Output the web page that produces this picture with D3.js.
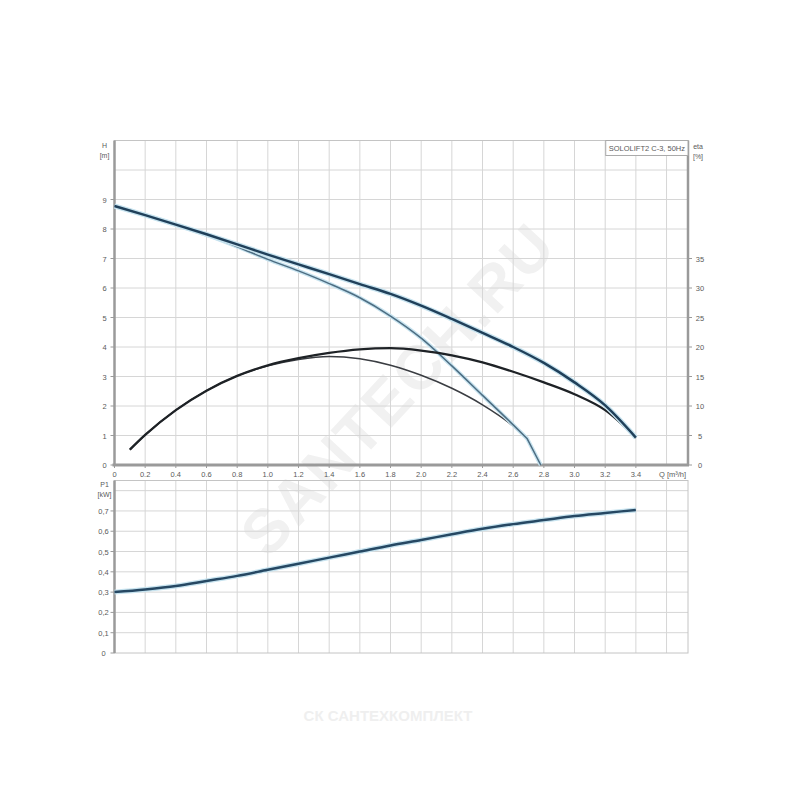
<!DOCTYPE html>
<html><head><meta charset="utf-8">
<script src="https://cdn.jsdelivr.net/npm/d3@7/dist/d3.min.js"></script>
<style>
html,body{margin:0;padding:0;background:#fff;}
svg text{font-family:"Liberation Sans","DejaVu Sans",sans-serif;}
</style></head>
<body><svg id="c" width="800" height="800"></svg>
<script>
// ---- data ----
const qMain   = [0,0.2,0.4,0.6,0.8,1.0,1.2,1.4,1.6,1.8,2.0,2.2,2.4,2.6,2.8,3.0,3.2,3.4];
const hMain   = [8.78,8.47,8.15,7.82,7.48,7.13,6.8,6.47,6.13,5.8,5.4,4.95,4.48,4.0,3.46,2.8,2.02,0.93];
const qLimit  = [0,0.2,0.4,0.6,0.8,1.0,1.2,1.4,1.6,1.8,2.0,2.2,2.4,2.6,2.69,2.78];
const hLimit  = [8.78,8.47,8.15,7.8,7.4,6.97,6.58,6.15,5.67,5.05,4.3,3.36,2.36,1.36,0.9,0];
const qEta    = [0.1,0.2,0.4,0.6,0.8,1.0,1.2,1.4,1.6,1.8,2.0,2.2,2.4,2.6,2.8,3.0,3.2,3.4];
const etaMain = [2.6,5.1,9.3,12.6,15.1,16.9,18.1,19.0,19.6,19.8,19.4,18.6,17.4,15.8,14.0,12.0,9.3,4.65];
const qEtaLim = [0.1,0.2,0.4,0.6,0.8,1.0,1.2,1.4,1.6,1.8,2.0,2.2,2.4,2.6,2.69,2.78];
const etaLim  = [2.6,5.1,9.3,12.6,15.1,16.8,17.9,18.4,18.0,16.9,15.2,13.0,10.2,6.6,4.5,0];
const qP      = [0,0.2,0.4,0.6,0.8,1.0,1.2,1.4,1.6,1.8,2.0,2.2,2.4,2.6,2.8,3.0,3.2,3.4];
const p1      = [0.30,0.313,0.33,0.355,0.38,0.41,0.44,0.47,0.5,0.53,0.557,0.585,0.612,0.635,0.655,0.675,0.69,0.705];
const xTicks  = [0,0.2,0.4,0.6,0.8,1.0,1.2,1.4,1.6,1.8,2.0,2.2,2.4,2.6,2.8,3.0,3.2,3.4];
const xGrid   = [0.2,0.4,0.6,0.8,1.0,1.2,1.4,1.6,1.8,2.0,2.2,2.4,2.6,2.8,3.0,3.2,3.4,3.6];
const hTicks  = [0,1,2,3,4,5,6,7,8,9];
const hGrid   = [1,2,3,4,5,6,7,8,9,10];
const etaTicks= [0,5,10,15,20,25,30,35];
const pTicks  = [0,0.1,0.2,0.3,0.4,0.5,0.6,0.7];
const pGrid   = [0.1,0.2,0.3,0.4,0.5,0.6,0.7,0.8];
const legendLabel = "SOLOLIFT2 C-3, 50Hz";

// ---- scales ----
const svg = d3.select("#c");
const x  = d3.scaleLinear().domain([0,3.74]).range([114.5,688]);
const yH = d3.scaleLinear().domain([0,11]).range([465,140.5]);
const yE = d3.scaleLinear().domain([0,55]).range([465,140.5]);
const yP = d3.scaleLinear().domain([0,0.85]).range([653,480.5]);
const gridC = "#d6d6d6", axC = "#9a9a9a", txt = "#5a5a5a";

// watermark
svg.append("text").attr("transform","translate(268,560) rotate(-47)")
  .attr("font-size",62).attr("font-weight","bold").attr("fill","#f1f1f1")
  .attr("letter-spacing",2).text("SANTECH.RU");
svg.append("text").attr("x",388).attr("y",721).attr("text-anchor","middle")
  .attr("font-size",15).attr("font-weight","bold").attr("fill","#efefef")
  .text("СК САНТЕХКОМПЛЕКТ");

function panel(yS, gridVals, top, bottom){
  const g = svg.append("g");
  g.selectAll(".vg").data(xGrid).join("line")
    .attr("x1",d=>x(d)).attr("x2",d=>x(d)).attr("y1",top).attr("y2",bottom)
    .attr("stroke",gridC).attr("stroke-width",1);
  g.selectAll(".hg").data(gridVals).join("line")
    .attr("x1",x(0)).attr("x2",x(3.74)).attr("y1",d=>yS(d)).attr("y2",d=>yS(d))
    .attr("stroke",gridC).attr("stroke-width",1);
  g.append("rect").attr("x",x(0)).attr("y",top).attr("width",x(3.74)-x(0)).attr("height",bottom-top)
    .attr("fill","none").attr("stroke","#c4c4c4").attr("stroke-width",1);
  return g;
}

// ---- top panel ----
panel(yH, hGrid, yH(11), yH(0));
svg.append("line").attr("x1",x(0)).attr("x2",x(0)).attr("y1",yH(11)).attr("y2",yH(0))
  .attr("stroke",axC).attr("stroke-width",2.5);
svg.append("line").attr("x1",x(3.74)).attr("x2",x(3.74)).attr("y1",yH(11)).attr("y2",yH(0))
  .attr("stroke",axC).attr("stroke-width",2.5);
svg.append("line").attr("x1",x(0)-2).attr("x2",x(3.74)+1).attr("y1",yH(0)).attr("y2",yH(0))
  .attr("stroke",axC).attr("stroke-width",3);
svg.selectAll(".lt").data(hTicks).join("line")
  .attr("x1",x(0)-4).attr("x2",x(0)).attr("y1",d=>yH(d)).attr("y2",d=>yH(d)).attr("stroke",axC);
svg.selectAll(".ltl").data(hTicks).join("text")
  .attr("x",x(0)-10).attr("y",d=>yH(d)+3).attr("text-anchor","middle")
  .attr("font-size",7.5).attr("fill",txt).text(d=>d);
svg.append("text").attr("x",x(0)-10).attr("y",yH(11)+7).attr("text-anchor","middle").attr("font-size",7).attr("fill",txt).text("H");
svg.append("text").attr("x",x(0)-10).attr("y",yH(11)+17).attr("text-anchor","middle").attr("font-size",7).attr("fill",txt).text("[m]");
svg.selectAll(".rt").data(etaTicks).join("line")
  .attr("x1",x(3.74)).attr("x2",x(3.74)+4).attr("y1",d=>yE(d)).attr("y2",d=>yE(d)).attr("stroke",axC);
svg.selectAll(".rtl").data(etaTicks).join("text")
  .attr("x",x(3.74)+12).attr("y",d=>yE(d)+3).attr("text-anchor","middle")
  .attr("font-size",7.5).attr("fill",txt).text(d=>d);
svg.append("text").attr("x",x(3.74)+10).attr("y",yH(11)+8).attr("text-anchor","middle").attr("font-size",7).attr("fill",txt).text("eta");
svg.append("text").attr("x",x(3.74)+10).attr("y",yH(11)+18).attr("text-anchor","middle").attr("font-size",7).attr("fill",txt).text("[%]");
svg.selectAll(".xt").data(xTicks).join("line")
  .attr("x1",d=>x(d)).attr("x2",d=>x(d)).attr("y1",yH(0)).attr("y2",yH(0)+3).attr("stroke",axC);
svg.selectAll(".xtl").data(xTicks).join("text")
  .attr("x",d=>x(d)).attr("y",yH(0)+12).attr("text-anchor","middle")
  .attr("font-size",7.5).attr("fill",txt).text(d=>d===0?"0":d.toFixed(1));
svg.append("text").attr("x",x(3.6)+6).attr("y",yH(0)+12).attr("text-anchor","middle")
  .attr("font-size",7.5).attr("fill",txt).text("Q [m³/h]");
const lg = svg.append("g");
const lt = lg.append("text").attr("x",x(3.74)-3).attr("y",yH(11)+10).attr("text-anchor","end")
  .attr("font-size",7.5).attr("fill",txt).text(legendLabel);
const bb = lt.node().getBBox();
lg.insert("rect","text").attr("x",bb.x-3).attr("y",yH(11)).attr("width",x(3.74)-bb.x+3).attr("height",15)
  .attr("fill","#fff").attr("stroke","#aaa").attr("stroke-width",1);

// curves; kinkAt = index after which segments are straight
function pathD(qs,vs,ys,kinkAt){
  const n = kinkAt==null ? vs.length : kinkAt+1;
  const smooth = d3.line().x((d,i)=>x(qs[i])).y((d,i)=>ys(vs[i])).curve(d3.curveMonotoneX)(vs.slice(0,n));
  if(kinkAt==null) return smooth;
  let tail = "";
  for(let i=n;i<vs.length;i++) tail += "L"+x(qs[i])+","+ys(vs[i]);
  return smooth + tail;
}
function curve(qs,vs,ys,color,w,halo,kinkAt){
  const d = pathD(qs,vs,ys,kinkAt);
  if(halo) svg.append("path").attr("d",d).attr("fill","none")
    .attr("stroke","#c7e3ef").attr("stroke-width",w+2.5).attr("stroke-linejoin","round");
  svg.append("path").attr("d",d).attr("fill","none")
    .attr("stroke",color).attr("stroke-width",w).attr("stroke-linejoin","round");
}
curve(qEtaLim,etaLim,yE,"#3a3d42",1.5,false,qEtaLim.length-2);
curve(qLimit,hLimit,yH,"#4d6d82",1.5,true,qLimit.length-2);
curve(qEta,etaMain,yE,"#1e2226",2.3,false);
curve(qMain,hMain,yH,"#20405a",2.5,true);

// ---- bottom panel ----
panel(yP, pGrid, yP(0.85), yP(0));
svg.append("line").attr("x1",x(0)).attr("x2",x(0)).attr("y1",yP(0.85)).attr("y2",yP(0))
  .attr("stroke",axC).attr("stroke-width",2.5);
svg.selectAll(".pt").data(pTicks).join("line")
  .attr("x1",x(0)-4).attr("x2",x(0)).attr("y1",d=>yP(d)).attr("y2",d=>yP(d)).attr("stroke",axC);
svg.selectAll(".ptl").data(pTicks).join("text")
  .attr("x",x(0)-11).attr("y",d=>yP(d)+3).attr("text-anchor","middle")
  .attr("font-size",7.5).attr("fill",txt).text(d=>d===0?"0":d.toFixed(1).replace(".",","));
svg.append("text").attr("x",x(0)-10).attr("y",yP(0.85)+6).attr("text-anchor","middle").attr("font-size",7).attr("fill",txt).text("P1");
svg.append("text").attr("x",x(0)-10).attr("y",yP(0.85)+16).attr("text-anchor","middle").attr("font-size",7).attr("fill",txt).text("[kW]");
curve(qP,p1,yP,"#264863",2.5,true);
</script></body></html>
